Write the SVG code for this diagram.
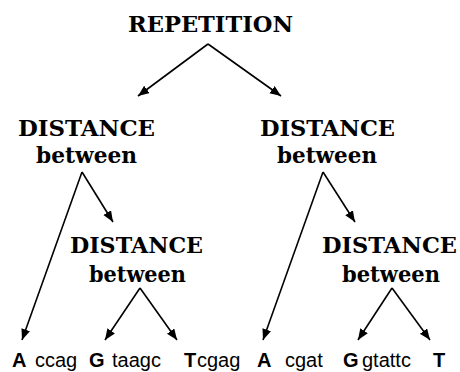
<svg xmlns="http://www.w3.org/2000/svg" width="460" height="372" viewBox="0 0 460 372">
<defs>
<style>
.h{font-family:"DejaVu Serif","Liberation Serif",serif;font-weight:bold;font-size:22px;fill:#000}
.b{font-family:"Liberation Sans",Arial,sans-serif;font-weight:bold;font-size:20px;fill:#000}
.s{font-family:"Liberation Sans",Arial,sans-serif;font-size:20px;fill:#000}
.c{fill:none;stroke:#000;stroke-width:1.6}
</style>
<marker id="ah" markerUnits="userSpaceOnUse" markerWidth="12" markerHeight="10" refX="11" refY="4.5" orient="auto">
<path d="M0,0 L11,4.5 L0,9 z" fill="#000"/>
</marker>
</defs>
<rect width="460" height="372" fill="#fff"/>
<g id="connectors">
<path class="c" d="M208,44 L138,96" marker-end="url(#ah)"/>
<path class="c" d="M208,44 L281,96" marker-end="url(#ah)"/>
<path class="c" d="M82,172 L113,222" marker-end="url(#ah)"/>
<path class="c" d="M82,172 L22,340" marker-end="url(#ah)"/>
<path class="c" d="M140,288 L105,340" marker-end="url(#ah)"/>
<path class="c" d="M140,288 L177,340" marker-end="url(#ah)"/>
<path class="c" d="M323,172 L355,222" marker-end="url(#ah)"/>
<path class="c" d="M323,172 L263,340" marker-end="url(#ah)"/>
<path class="c" d="M392,288 L358,340" marker-end="url(#ah)"/>
<path class="c" d="M392,288 L430,340" marker-end="url(#ah)"/>
</g>
<g id="repetition">
<text class="h" x="128" y="32" textLength="165" lengthAdjust="spacingAndGlyphs">REPETITION</text>
</g>
<g id="distance-left">
<text class="h" x="18" y="136" textLength="137" lengthAdjust="spacingAndGlyphs">DISTANCE</text>
<text class="h" x="36" y="163" textLength="101" lengthAdjust="spacingAndGlyphs">between</text>
</g>
<g id="distance-left-inner">
<text class="h" x="70" y="253" textLength="133" lengthAdjust="spacingAndGlyphs">DISTANCE</text>
<text class="h" x="89" y="282" textLength="97" lengthAdjust="spacingAndGlyphs">between</text>
</g>
<g id="distance-right">
<text class="h" x="260" y="136" textLength="135" lengthAdjust="spacingAndGlyphs">DISTANCE</text>
<text class="h" x="277" y="163" textLength="100" lengthAdjust="spacingAndGlyphs">between</text>
</g>
<g id="distance-right-inner">
<text class="h" x="322" y="253" textLength="135" lengthAdjust="spacingAndGlyphs">DISTANCE</text>
<text class="h" x="342" y="282" textLength="98" lengthAdjust="spacingAndGlyphs">between</text>
</g>
<g id="sequence">
<text class="b" x="12" y="367">A</text>
<text class="s" x="35" y="367">ccag</text>
<text class="b" x="89" y="367">G</text>
<text class="s" x="112" y="367">taagc</text>
<text class="b" x="184" y="367">T</text>
<text class="s" x="197" y="367">cgag</text>
<text class="b" x="257" y="367">A</text>
<text class="s" x="285" y="367">cgat</text>
<text class="b" x="343" y="367">G</text>
<text class="s" x="362" y="367">gtattc</text>
<text class="b" x="433" y="367">T</text>
</g>
</svg>
